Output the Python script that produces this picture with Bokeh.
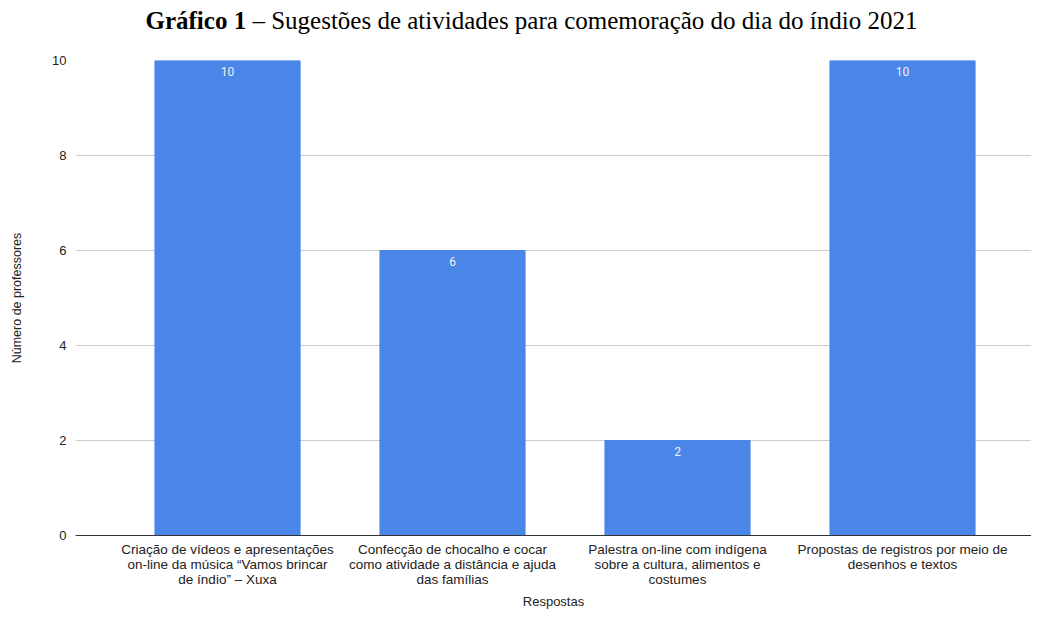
from bokeh.plotting import figure
from bokeh.models import Range1d, FixedTicker, ColumnDataSource, LabelSet, Div
from bokeh.core.properties import value
from bokeh.layouts import column
from bokeh.embed import file_html
from bokeh.resources import INLINE

categories = [
    "Criação de vídeos e apresentações\non-line da música “Vamos brincar\nde índio” – Xuxa",
    "Confecção de chocalho e cocar\ncomo atividade a distância e ajuda\ndas famílias",
    "Palestra on-line com indígena\nsobre a cultura, alimentos e\ncostumes",
    "Propostas de registros por meio de\ndesenhos e textos",
]
values = [10, 6, 2, 10]
y_ticks = [0, 2, 4, 6, 8, 10]

xs = [i + 0.5 for i in range(len(categories))]
src = ColumnDataSource(dict(x=xs, top=values, lbl=[str(v) for v in values]))

SANS = "Liberation Sans"

title = Div(
    text='<div style="width:1031px;text-align:center;font-family:\'Liberation Serif\';'
         'font-size:25px;color:#000;padding-left:22px;box-sizing:border-box;line-height:32px;margin-top:0px">'
         '<b>Gráfico 1</b> – Sugestões de atividades para comemoração do dia do índio 2021</div>',
    width=1031, height=38,
)

p = figure(width=1031, height=565, output_backend="svg", toolbar_location=None,
           x_range=Range1d(-0.1756, 4.0733), y_range=Range1d(0, 10),
           min_border_left=75, min_border_right=0, min_border_top=12, min_border_bottom=78)
p.outline_line_color = None
p.background_fill_color = "white"

p.vbar(x="x", top="top", width=0.645, source=src, color="#4a86e8")
p.add_layout(LabelSet(x="x", y="top", text="lbl", source=src, y_offset=-6,
                      text_align="center", text_baseline="top", text_color="#f0f0f0",
                      text_font=value("Roboto"), text_font_size="12px"))

p.xgrid.grid_line_color = None
p.ygrid.grid_line_color = "#cccccc"
p.ygrid.ticker = FixedTicker(ticks=y_ticks)

p.yaxis.ticker = FixedTicker(ticks=y_ticks)
p.yaxis.axis_line_color = None
p.yaxis.major_tick_line_color = None
p.yaxis.minor_tick_line_color = None
p.yaxis.major_label_standoff = 3
p.yaxis.major_label_text_font = SANS
p.yaxis.major_label_text_font_size = "13px"
p.yaxis.major_label_text_color = "#222222"
p.yaxis.axis_label = "Número de professores"
p.yaxis.axis_label_text_font = SANS
p.yaxis.axis_label_text_font_style = "normal"
p.yaxis.axis_label_text_font_size = "12.5px"
p.yaxis.axis_label_text_color = "#222222"
p.yaxis.axis_label_standoff = 25

p.xaxis.ticker = FixedTicker(ticks=xs)
p.xaxis.major_label_overrides = {x: c for x, c in zip(xs, categories)}
p.xaxis.axis_line_color = "#333333"
p.xaxis.major_tick_line_color = None
p.xaxis.minor_tick_line_color = None
p.xaxis.major_label_standoff = 0
p.xaxis.major_label_text_font = SANS
p.xaxis.major_label_text_font_size = "13.5px"
p.xaxis.major_label_text_line_height = 1.0
p.xaxis.major_label_text_color = "#222222"
p.xaxis.axis_label = "Respostas"
p.xaxis.axis_label_text_font = SANS
p.xaxis.axis_label_text_font_style = "normal"
p.xaxis.axis_label_text_font_size = "13px"
p.xaxis.axis_label_text_color = "#222222"
p.xaxis.axis_label_standoff = 4

layout = column(title, p, spacing=0)
open("out.html", "w").write(file_html(layout, INLINE))
